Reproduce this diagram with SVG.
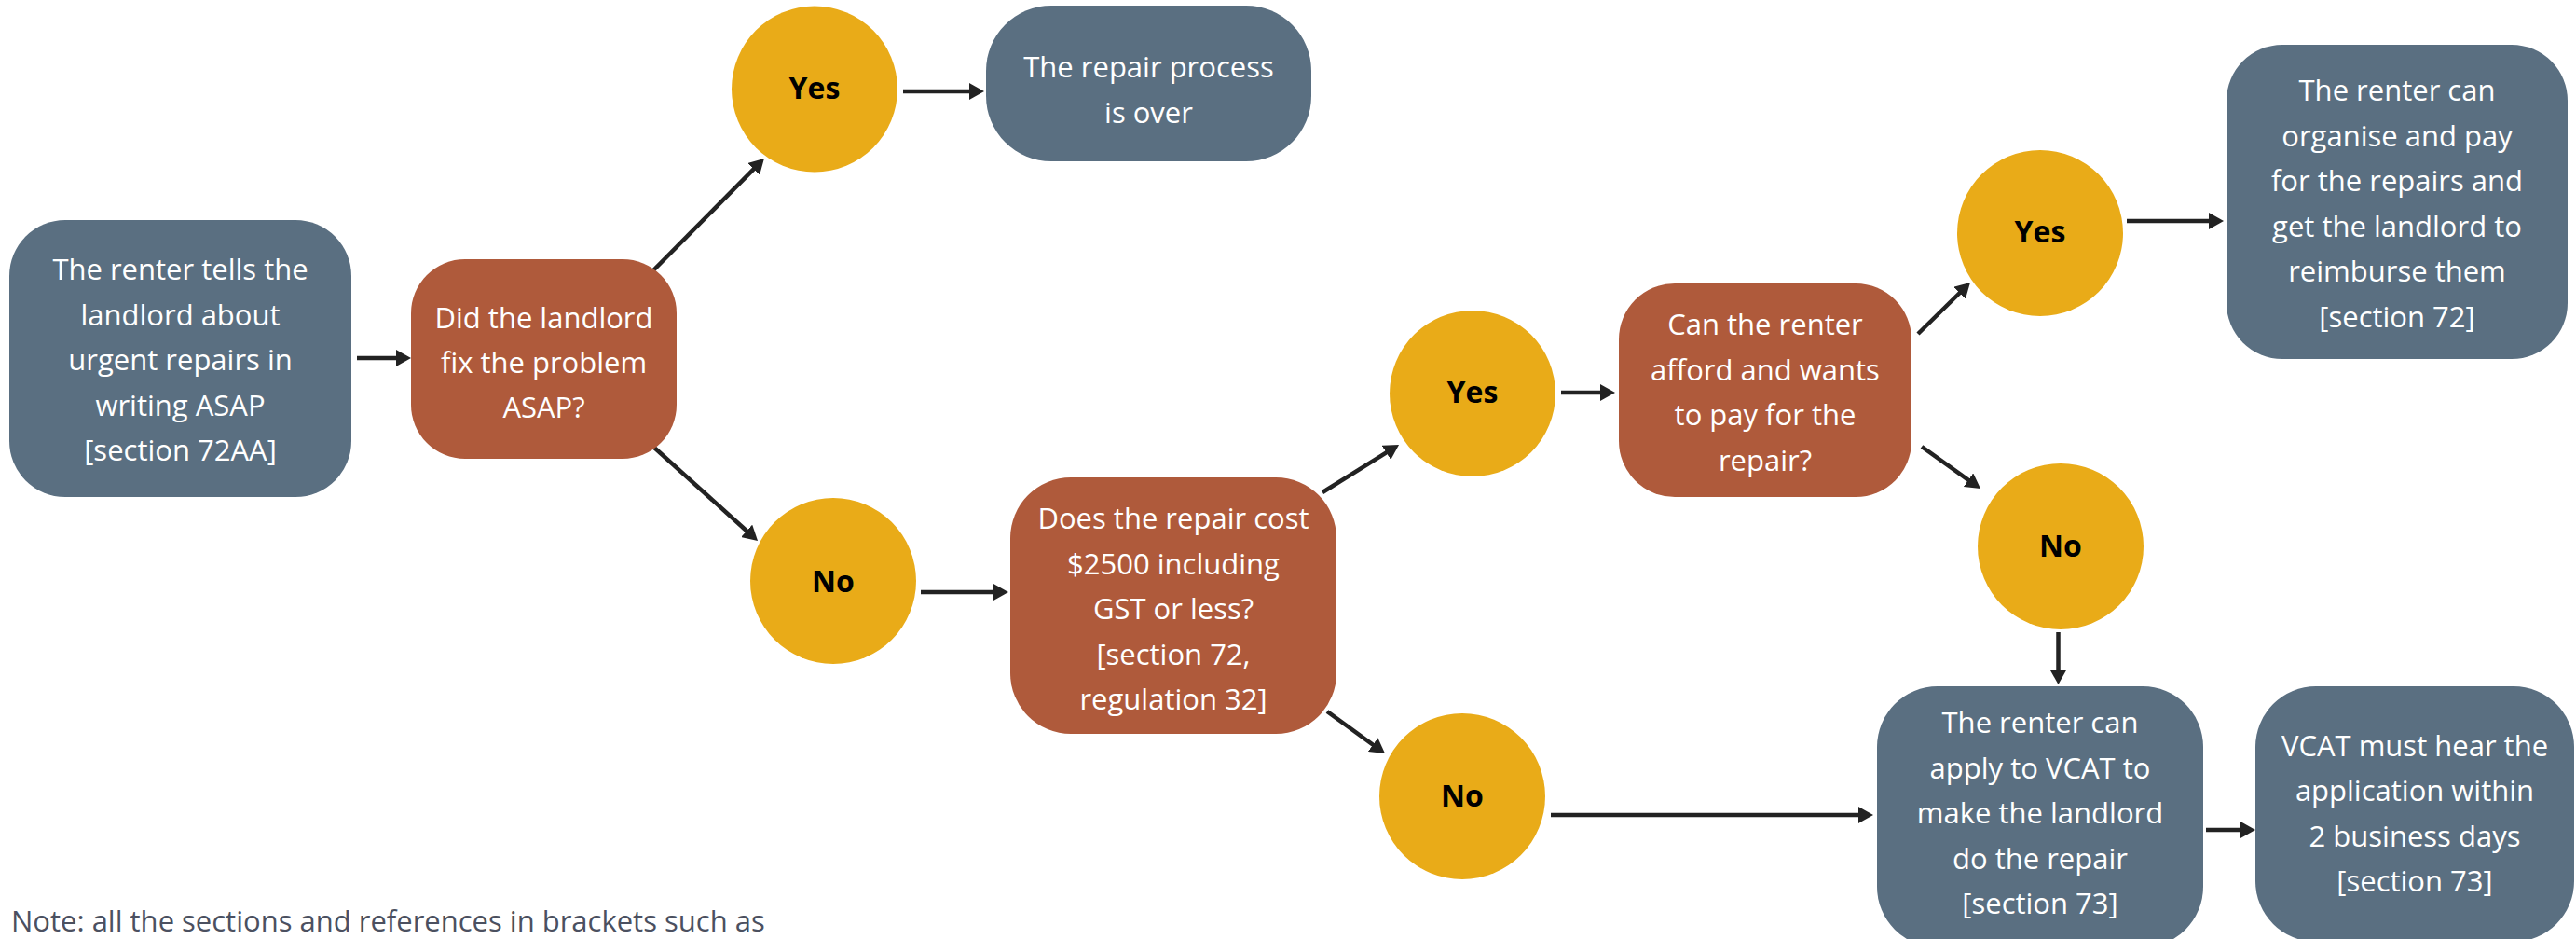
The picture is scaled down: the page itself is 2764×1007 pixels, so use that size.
<svg xmlns="http://www.w3.org/2000/svg" width="2764" height="1007" viewBox="0 0 2764 1007">
  <style>
    .box { fill: #5a6f81; }
    .dec { fill: #af5a3b; }
    .ans { fill: #e9ab18; }
    .t { font-family: "Open Sans", "Liberation Sans", sans-serif; font-size: 31px; fill: #ffffff; text-anchor: middle; }
    .a { font-family: "Open Sans", "Liberation Sans", sans-serif; font-size: 32px; font-weight: bold; fill: #000000; text-anchor: middle; }
    .note { font-family: "Open Sans", "Liberation Sans", sans-serif; font-size: 31px; fill: #4b5060; }
    .c { stroke: #222222; stroke-width: 4.5; fill: none; marker-end: url(#ah); }
  </style>
  <defs>
    <marker id="ah" viewBox="0 0 16 18" refX="1" refY="9" markerWidth="16" markerHeight="18" markerUnits="userSpaceOnUse" orient="auto">
      <path d="M0,0 L16,9 L0,18 Z" fill="#222222"/>
    </marker>
  </defs>
  <rect width="2764" height="1007" fill="#ffffff"/>

  <g id="connectors">
    <line class="c" x1="383" y1="384" x2="426" y2="384"/>
    <line class="c" x1="700" y1="291" x2="809.4" y2="180.6"/>
    <line class="c" x1="969" y1="98" x2="1041" y2="98"/>
    <line class="c" x1="702" y1="480" x2="801.9" y2="570"/>
    <line class="c" x1="988" y1="635" x2="1067" y2="635"/>
    <line class="c" x1="1419" y1="528" x2="1488.3" y2="484.9"/>
    <line class="c" x1="1675" y1="421" x2="1718" y2="421"/>
    <line class="c" x1="1424" y1="763" x2="1473.9" y2="799.2"/>
    <line class="c" x1="1664" y1="874" x2="1995" y2="874"/>
    <line class="c" x1="2058" y1="358" x2="2103.3" y2="313.5"/>
    <line class="c" x1="2282" y1="237" x2="2371" y2="237"/>
    <line class="c" x1="2062" y1="479" x2="2112.8" y2="515.3"/>
    <line class="c" x1="2208.5" y1="678" x2="2208.5" y2="719"/>
    <line class="c" x1="2367" y1="890" x2="2405" y2="890"/>
  </g>

  <g id="start">
    <rect class="box" x="10" y="236" width="367" height="297" rx="60"/>
    <text class="t" x="193.5" y="300">The renter tells the</text>
    <text class="t" x="193.5" y="348.5">landlord about</text>
    <text class="t" x="193.5" y="397">urgent repairs in</text>
    <text class="t" x="193.5" y="445.5">writing ASAP</text>
    <text class="t" x="193.5" y="494">[section 72AA]</text>
  </g>

  <g id="q-fixed">
    <rect class="dec" x="441" y="278" width="285" height="214" rx="58"/>
    <text class="t" x="583.5" y="352">Did the landlord</text>
    <text class="t" x="583.5" y="400">fix the problem</text>
    <text class="t" x="583.5" y="448">ASAP?</text>
  </g>

  <g id="yes-1">
    <circle class="ans" cx="874" cy="95.5" r="89"/>
    <text class="a" x="874" y="106">Yes</text>
  </g>

  <g id="over">
    <rect class="box" x="1058" y="6" width="349" height="167" rx="70"/>
    <text class="t" x="1232.5" y="83">The repair process</text>
    <text class="t" x="1232.5" y="132">is over</text>
  </g>

  <g id="no-1">
    <circle class="ans" cx="894" cy="623" r="89"/>
    <text class="a" x="894" y="635">No</text>
  </g>

  <g id="q-cost">
    <rect class="dec" x="1084" y="512" width="350" height="275" rx="65"/>
    <text class="t" x="1259" y="567">Does the repair cost</text>
    <text class="t" x="1259" y="615.5">$2500 including</text>
    <text class="t" x="1259" y="664">GST or less?</text>
    <text class="t" x="1259" y="712.5">[section 72,</text>
    <text class="t" x="1259" y="761">regulation 32]</text>
  </g>

  <g id="yes-2">
    <circle class="ans" cx="1580" cy="422" r="89"/>
    <text class="a" x="1580" y="432">Yes</text>
  </g>

  <g id="q-afford">
    <rect class="dec" x="1737" y="304" width="314" height="229" rx="60"/>
    <text class="t" x="1894" y="359">Can the renter</text>
    <text class="t" x="1894" y="407.5">afford and wants</text>
    <text class="t" x="1894" y="456">to pay for the</text>
    <text class="t" x="1894" y="504.5">repair?</text>
  </g>

  <g id="yes-3">
    <circle class="ans" cx="2189" cy="250" r="89"/>
    <text class="a" x="2189" y="260">Yes</text>
  </g>

  <g id="reimburse">
    <rect class="box" x="2389" y="48" width="366" height="337" rx="60"/>
    <text class="t" x="2572" y="108">The renter can</text>
    <text class="t" x="2572" y="156.5">organise and pay</text>
    <text class="t" x="2572" y="205">for the repairs and</text>
    <text class="t" x="2572" y="253.5">get the landlord to</text>
    <text class="t" x="2572" y="302">reimburse them</text>
    <text class="t" x="2572" y="350.5">[section 72]</text>
  </g>

  <g id="no-2">
    <circle class="ans" cx="2211" cy="586" r="89"/>
    <text class="a" x="2211" y="597">No</text>
  </g>

  <g id="no-3">
    <circle class="ans" cx="1569" cy="854" r="89"/>
    <text class="a" x="1569" y="865">No</text>
  </g>

  <g id="vcat-apply">
    <rect class="box" x="2014" y="736" width="350" height="280" rx="65"/>
    <text class="t" x="2189" y="786">The renter can</text>
    <text class="t" x="2189" y="834.5">apply to VCAT to</text>
    <text class="t" x="2189" y="883">make the landlord</text>
    <text class="t" x="2189" y="931.5">do the repair</text>
    <text class="t" x="2189" y="980">[section 73]</text>
  </g>

  <g id="vcat-hear">
    <rect class="box" x="2420" y="736" width="342" height="274" rx="65"/>
    <text class="t" x="2591" y="810.5">VCAT must hear the</text>
    <text class="t" x="2591" y="859">application within</text>
    <text class="t" x="2591" y="907.5">2 business days</text>
    <text class="t" x="2591" y="956">[section 73]</text>
  </g>

  <g id="note">
    <text class="note" x="12" y="999">Note: all the sections and references in brackets such as</text>
  </g>
</svg>
